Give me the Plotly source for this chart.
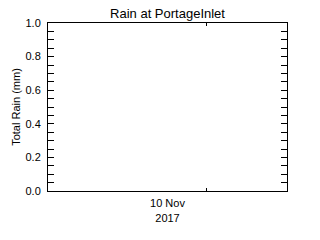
import plotly.graph_objects as go

title = "Rain at PortageInlet"
y_title = "Total Rain (mm)"
x_range = ["2017-11-09 00:00", "2017-11-11 00:00"]
x_label_pos = ["2017-11-10 00:00"]
x_label_text = ["10 Nov<br>2017"]
x_tick_pos = ["2017-11-10 07:45"]
rain_times = []
rain_values = []
y_range = [0, 1]

font = "Liberation Sans"
fig = go.Figure()
fig.add_trace(go.Scatter(x=rain_times, y=rain_values, mode="lines",
                         line=dict(color="black"), showlegend=False))
fig.add_trace(go.Scatter(x=rain_times, y=rain_values, xaxis="x2",
                         showlegend=False))

fig.update_layout(
    width=320, height=240,
    margin=dict(l=48, r=33, t=23, b=49),
    paper_bgcolor="white", plot_bgcolor="white",
    title=dict(text=title, x=(48 + 287) / 2 / 320, xanchor="center",
               y=1 - 13 / 240, yanchor="middle",
               font=dict(family=font, size=13, color="black")),
    font=dict(family=font, size=11, color="black"),
    xaxis=dict(type="date", range=x_range, tickvals=x_label_pos,
               ticktext=x_label_text, ticks="", showgrid=False,
               zeroline=False, showline=True, linecolor="black",
               linewidth=1, mirror=True, ticklabelstandoff=2,
               tickfont=dict(family=font, size=11, color="black")),
    xaxis2=dict(type="date", range=x_range, overlaying="x", side="bottom",
                tickvals=x_tick_pos, showticklabels=False, ticks="inside",
                ticklen=3, tickcolor="black", showgrid=False,
                zeroline=False, showline=False, mirror="ticks",
                anchor="y"),
    yaxis=dict(range=y_range, tickvals=[0, 0.2, 0.4, 0.6, 0.8, 1.0],
               ticktext=["0.0", "0.2", "0.4", "0.6", "0.8", "1.0"],
               ticks="inside", ticklen=6, tickcolor="black",
               ticklabelstandoff=4,
               minor=dict(dtick=0.05, ticks="inside", ticklen=3,
                          tickcolor="black", showgrid=False),
               showgrid=False, zeroline=False, showline=True,
               linecolor="black", linewidth=1, mirror="allticks",
               title=dict(text=y_title, standoff=2,
                          font=dict(family=font, size=11, color="black")),
               tickfont=dict(family=font, size=11, color="black")),
)
fig.write_html("out.html")
